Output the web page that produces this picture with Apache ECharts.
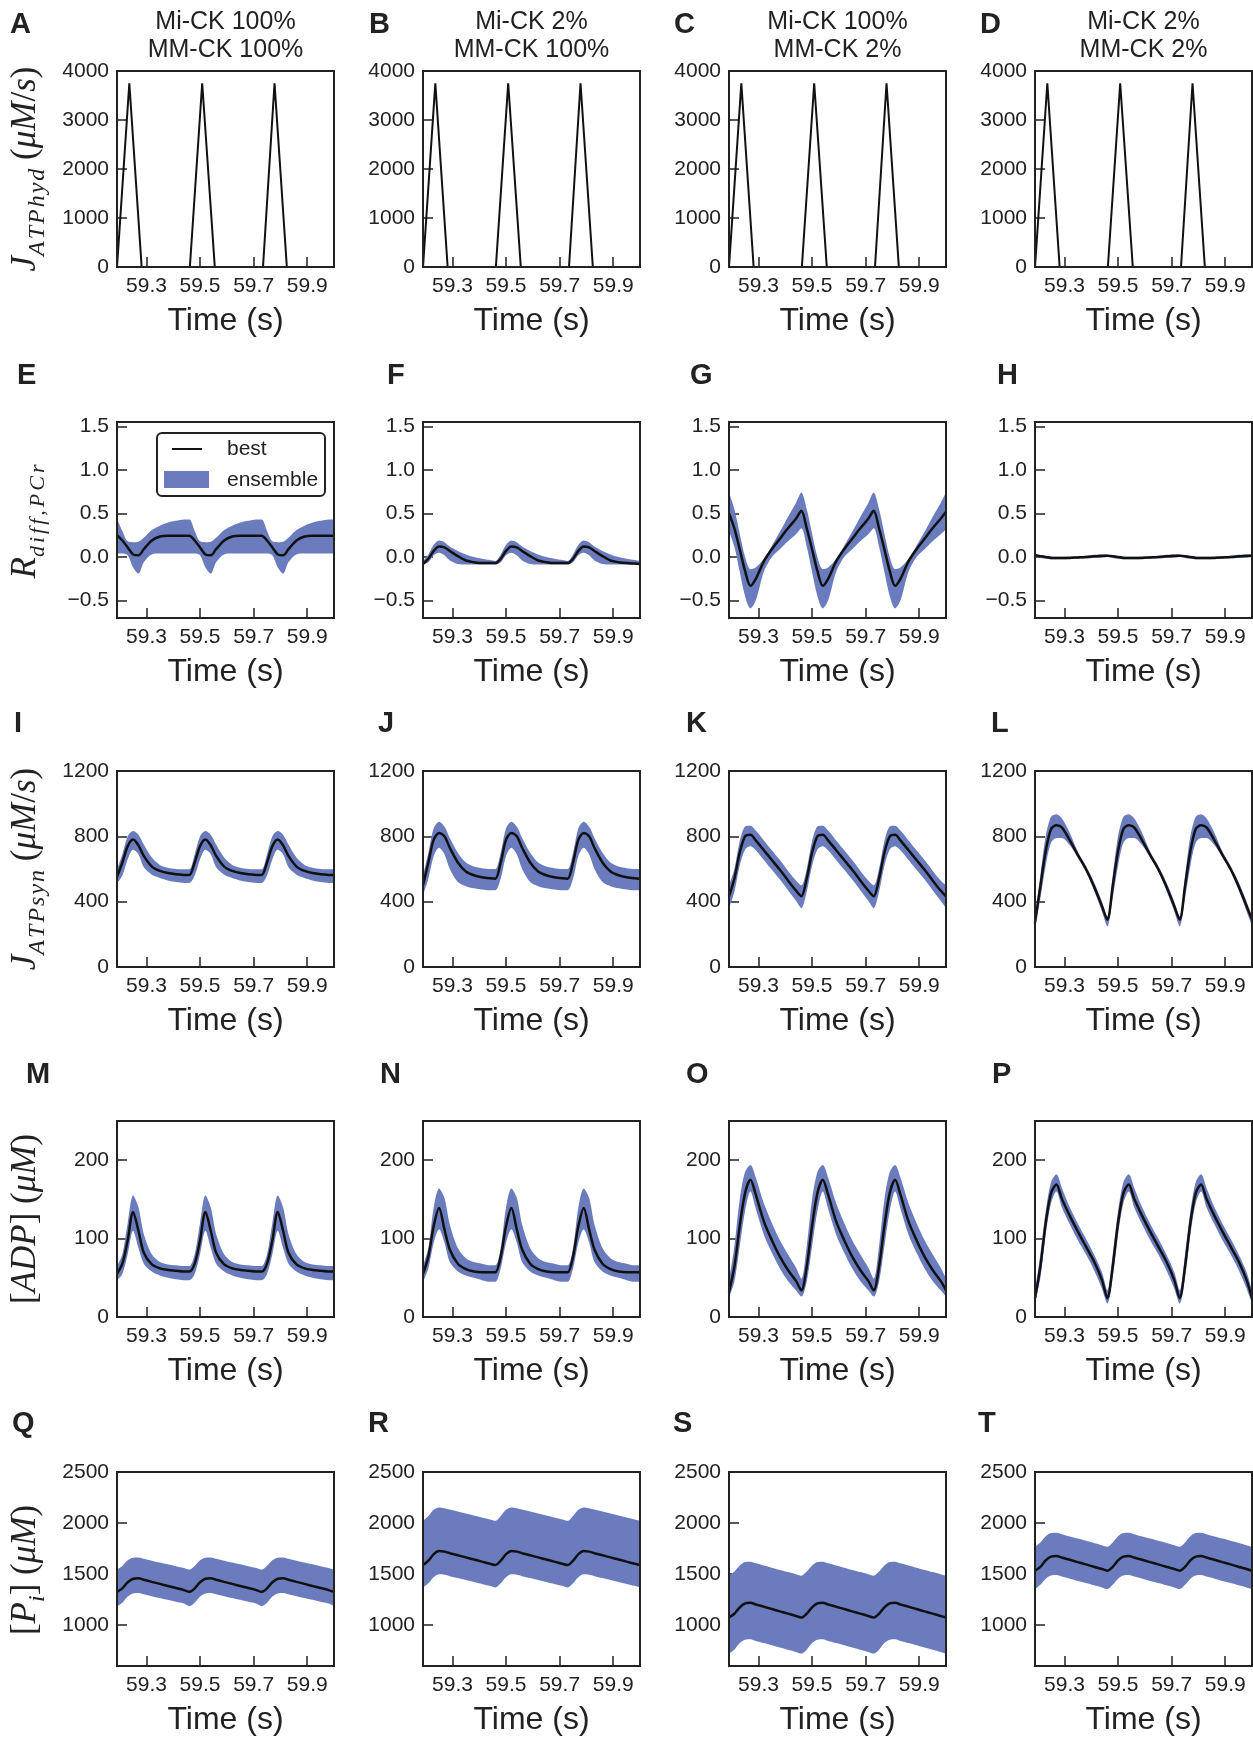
<!DOCTYPE html>
<html><head><meta charset="utf-8">
<script src="https://cdn.jsdelivr.net/npm/echarts@6/dist/echarts.min.js"></script>
<style>html,body{margin:0;padding:0;background:#fff}#c{width:1253px;height:1737px}</style>
</head><body><div id="c"></div>
<script>
// ---------- text ----------
const COL_TITLES = [['Mi-CK 100%','MM-CK 100%'],['Mi-CK 2%','MM-CK 100%'],['Mi-CK 100%','MM-CK 2%'],['Mi-CK 2%','MM-CK 2%']];
const PANEL_LETTERS = [['A','B','C','D'],['E','F','G','H'],['I','J','K','L'],['M','N','O','P'],['Q','R','S','T']];
const X_NAME = 'Time (s)';
const X_TICKS = [59.3, 59.5, 59.7, 59.9];
const Y_TICKS_HYD = [0, 1000, 2000, 3000, 4000];
const Y_TICKS_R = [-0.5, 0, 0.5, 1.0, 1.5];
const Y_TICKS_SYN = [0, 400, 800, 1200];
const Y_TICKS_ADP = [0, 100, 200];
const Y_TICKS_PI = [1000, 1500, 2000, 2500];
const LEGEND_NAMES = ['best', 'ensemble'];

// ---------- row 1 : J_ATPhyd ----------
const TIME_HYD = [59.19, 59.236, 59.282, 59.462, 59.508, 59.555, 59.735, 59.778, 59.824, 60.0];
const HYD_A = [0, 3750, 0, 0, 3750, 0, 0, 3750, 0, 0];
const HYD_B = [0, 3750, 0, 0, 3750, 0, 0, 3750, 0, 0];
const HYD_C = [0, 3750, 0, 0, 3750, 0, 0, 3750, 0, 0];
const HYD_D = [0, 3750, 0, 0, 3750, 0, 0, 3750, 0, 0];

// ---------- rows 2-5 time ----------
const TIME = [59.19,59.21,59.23,59.25,59.27,59.29,59.32,59.35,59.38,59.41,59.44,
              59.46,59.48,59.50,59.52,59.54,59.56,59.59,59.62,59.65,59.68,59.71,
              59.73,59.75,59.77,59.79,59.81,59.83,59.86,59.89,59.92,59.95,59.98,
              60.00];

// ---------- row 2 : R_diff,PCr ----------
const E_BEST  = [0.25,0.19,0.11,0.03,0.02,0.09,0.19,0.235,0.245,0.245,0.245, 0.245,0.19,0.11,0.03,0.02,0.09,0.19,0.235,0.245,0.245,0.245, 0.245,0.19,0.11,0.03,0.02,0.09,0.19,0.235,0.245,0.245,0.245, 0.245];
const E_UPPER = [0.44,0.30,0.18,0.17,0.175,0.22,0.31,0.36,0.395,0.415,0.43, 0.43,0.30,0.18,0.17,0.175,0.22,0.31,0.36,0.395,0.415,0.43, 0.43,0.30,0.18,0.17,0.175,0.22,0.31,0.36,0.395,0.415,0.43, 0.43];
const E_LOWER = [0.04,0.04,0.02,-0.12,-0.19,-0.06,0.03,0.04,0.04,0.04,0.04, 0.04,0.04,0.02,-0.12,-0.19,-0.06,0.03,0.04,0.04,0.04,0.04, 0.04,0.04,0.02,-0.12,-0.19,-0.06,0.03,0.04,0.04,0.04,0.04, 0.04];

const F_BEST  = [-0.08,-0.02,0.07,0.12,0.11,0.07,0.01,-0.04,-0.06,-0.07,-0.07, -0.07,-0.02,0.07,0.12,0.11,0.07,0.01,-0.04,-0.06,-0.07,-0.07, -0.07,-0.02,0.07,0.12,0.11,0.07,0.01,-0.04,-0.06,-0.07,-0.075, -0.08];
const F_UPPER = [-0.045,0.03,0.14,0.19,0.17,0.12,0.07,0.03,0.0,-0.02,-0.035, -0.045,0.03,0.14,0.19,0.17,0.12,0.07,0.03,0.0,-0.02,-0.035, -0.045,0.03,0.14,0.19,0.17,0.12,0.07,0.03,0.0,-0.02,-0.035, -0.045];
const F_LOWER = [-0.085,-0.06,0.02,0.05,0.02,-0.04,-0.08,-0.085,-0.085,-0.085,-0.085, -0.085,-0.06,0.02,0.05,0.02,-0.04,-0.08,-0.085,-0.085,-0.085,-0.085, -0.085,-0.06,0.02,0.05,0.02,-0.04,-0.08,-0.085,-0.085,-0.085,-0.085, -0.085];

const G_BEST  = [0.50,0.33,0.09,-0.16,-0.33,-0.25,-0.05,0.09,0.21,0.33,0.44, 0.53,0.33,0.09,-0.16,-0.33,-0.25,-0.05,0.09,0.21,0.33,0.44, 0.53,0.33,0.09,-0.16,-0.33,-0.25,-0.05,0.09,0.21,0.33,0.44, 0.52];
const G_UPPER = [0.74,0.55,0.27,0.0,-0.14,-0.12,-0.02,0.13,0.29,0.46,0.62, 0.74,0.55,0.27,0.0,-0.14,-0.12,-0.02,0.13,0.29,0.46,0.62, 0.74,0.55,0.27,0.0,-0.14,-0.12,-0.02,0.13,0.29,0.46,0.62, 0.74];
const G_LOWER = [0.30,0.12,-0.17,-0.45,-0.59,-0.50,-0.17,0.0,0.09,0.18,0.26, 0.33,0.12,-0.17,-0.45,-0.59,-0.50,-0.17,0.0,0.09,0.18,0.26, 0.33,0.12,-0.17,-0.45,-0.59,-0.50,-0.17,0.0,0.09,0.18,0.26, 0.32];

const H_BEST  = [0.02,0.01,0.0,-0.01,-0.012,-0.012,-0.01,-0.005,0.0,0.008,0.013, 0.015,0.01,0.0,-0.01,-0.012,-0.012,-0.01,-0.005,0.0,0.008,0.013, 0.015,0.01,0.0,-0.01,-0.012,-0.012,-0.01,-0.005,0.0,0.008,0.013, 0.015];
const H_UPPER = [0.035,0.02,0.01,0.005,0.002,0.002,0.005,0.01,0.015,0.025,0.032, 0.03,0.02,0.01,0.005,0.002,0.002,0.005,0.01,0.015,0.025,0.032, 0.03,0.02,0.01,0.005,0.002,0.002,0.005,0.01,0.015,0.025,0.032, 0.03];
const H_LOWER = [0.0,-0.01,-0.02,-0.025,-0.025,-0.025,-0.022,-0.02,-0.015,-0.01,-0.005, 0.0,-0.01,-0.02,-0.025,-0.025,-0.025,-0.022,-0.02,-0.015,-0.01,-0.005, 0.0,-0.01,-0.02,-0.025,-0.025,-0.025,-0.022,-0.02,-0.015,-0.01,-0.005, 0.0];

// ---------- row 3 : J_ATPsyn ----------
const I_BEST  = [552,640,740,781,745,680,615,588,575,568,564, 563,640,740,781,745,680,615,588,575,568,564, 563,640,740,781,745,680,615,588,575,568,564, 563];
const I_UPPER = [598,690,800,832,810,750,670,625,608,600,598, 598,690,800,832,810,750,670,625,608,600,598, 598,690,800,832,810,750,670,625,608,600,598, 598];
const I_LOWER = [512,560,660,718,690,610,565,545,530,520,515, 515,560,660,718,690,610,565,545,530,520,515, 515,560,660,718,690,610,565,545,530,520,515, 515];

const J_BEST  = [500,640,780,820,800,730,640,585,562,550,543, 540,640,780,820,800,730,640,585,562,550,543, 540,640,780,820,800,730,640,585,562,550,543, 540];
const J_UPPER = [560,700,850,890,860,790,700,640,615,605,600, 600,700,850,890,860,790,700,640,615,605,600, 600,700,850,890,860,790,700,640,615,605,600, 600];
const J_LOWER = [440,540,680,730,690,600,520,495,482,475,470, 470,540,680,730,690,600,520,495,482,475,470, 470,540,680,730,690,600,520,495,482,475,470, 470];

const K_BEST  = [433,540,700,800,810,775,715,655,595,530,468, 433,540,700,800,810,775,715,655,595,530,468, 433,540,700,800,810,775,715,655,595,530,468, 433];
const K_UPPER = [500,600,770,860,865,835,775,715,655,590,530, 500,600,770,860,865,835,775,715,655,590,530, 500,600,770,860,865,835,775,715,655,590,530, 500];
const K_LOWER = [360,460,620,720,740,715,655,595,535,470,405, 360,460,620,720,740,715,655,595,535,470,405, 360,460,620,720,740,715,655,595,535,470,405, 360];

const L_BEST  = [270,495,710,845,868,855,775,685,600,495,372, 290,495,710,845,868,855,775,685,600,495,372, 290,495,710,845,868,855,775,685,600,495,372, 290];
const L_UPPER = [300,560,800,920,935,910,820,705,620,520,400, 310,560,800,920,935,910,820,705,620,520,400, 310,560,800,920,935,910,820,705,620,520,400, 310];
const L_LOWER = [245,420,620,760,790,790,745,670,585,470,340, 250,420,620,760,790,790,745,670,585,470,340, 250,420,620,760,790,790,745,670,585,470,340, 250];

// ---------- row 4 : [ADP] ----------
const M_BEST  = [55,68,98,134,110,82,67,62,60,59,58, 58,68,98,134,110,82,67,62,60,59,58, 58,68,98,134,110,82,67,62,60,59,58, 58];
const M_UPPER = [65,80,120,155,140,106,80,70,67,66,65, 65,80,120,155,140,106,80,70,67,66,65, 65,80,120,155,140,106,80,70,67,66,65, 65];
const M_LOWER = [47,55,80,110,88,68,58,53,50,48,47, 47,55,80,110,88,68,58,53,50,48,47, 47,55,80,110,88,68,58,53,50,48,47, 47];

const N_BEST  = [55,77,116,139,112,86,68,61,58,57,57, 57,77,116,139,112,86,68,61,58,57,57, 57,77,116,139,112,86,68,61,58,57,57, 57];
const N_UPPER = [66,88,140,164,152,118,88,75,70,68,66, 66,88,140,164,152,118,88,75,70,68,66, 66,88,140,164,152,118,88,75,70,68,66, 66];
const N_LOWER = [45,62,95,112,95,70,58,53,50,47,45, 45,62,95,112,95,70,58,53,50,47,45, 45,62,95,112,95,70,58,53,50,47,45, 45];

const O_BEST  = [32,64,116,158,175,156,122,98,77,60,46, 34,64,116,158,175,156,122,98,77,60,46, 34,64,116,158,175,156,122,98,77,60,46, 34];
const O_UPPER = [47,90,150,185,194,178,145,120,98,80,63, 49,90,150,185,194,178,145,120,98,80,63, 49,90,150,185,194,178,145,120,98,80,63, 49];
const O_LOWER = [25,45,90,135,160,138,105,82,62,46,34, 26,45,90,135,160,138,105,82,62,46,34, 26,45,90,135,160,138,105,82,62,46,34, 26];

const P_BEST  = [24,64,120,158,169,151,129,109,90,71,47, 24,64,120,158,169,151,129,109,90,71,47, 24,64,120,158,169,151,129,109,90,71,47, 24];
const P_UPPER = [34,80,135,172,182,165,140,119,100,80,57, 34,80,135,172,182,165,140,119,100,80,57, 34,80,135,172,182,165,140,119,100,80,57, 34];
const P_LOWER = [17,50,105,145,160,140,118,98,80,60,36, 17,50,105,145,160,140,118,98,80,60,36, 17,50,105,145,160,140,118,98,80,60,36, 17];

// ---------- row 5 : [Pi] ----------
const Q_BEST  = [1326,1360,1420,1455,1460,1445,1424,1404,1384,1364,1343, 1326,1360,1420,1455,1460,1445,1424,1404,1384,1364,1343, 1326,1360,1420,1455,1460,1445,1424,1404,1384,1364,1343, 1326];
const Q_UPPER = [1544,1580,1635,1660,1662,1650,1632,1614,1596,1578,1560, 1544,1580,1635,1660,1662,1650,1632,1614,1596,1578,1560, 1544,1580,1635,1660,1662,1650,1632,1614,1596,1578,1560, 1544];
const Q_LOWER = [1186,1220,1280,1310,1314,1302,1284,1266,1248,1230,1212, 1186,1220,1280,1310,1314,1302,1284,1266,1248,1230,1212, 1186,1220,1280,1310,1314,1302,1284,1266,1248,1230,1212, 1186];

const R_BEST  = [1588,1631,1696,1727,1720,1705,1684,1664,1643,1622,1602, 1588,1631,1696,1727,1720,1705,1684,1664,1643,1622,1602, 1588,1631,1696,1727,1720,1705,1684,1664,1643,1622,1602, 1588];
const R_UPPER = [2023,2070,2130,2152,2146,2132,2113,2093,2074,2055,2036, 2023,2070,2130,2152,2146,2132,2113,2093,2074,2055,2036, 2023,2070,2130,2152,2146,2132,2113,2093,2074,2055,2036, 2023];
const R_LOWER = [1369,1410,1470,1498,1493,1480,1461,1442,1423,1404,1385, 1369,1410,1470,1498,1493,1480,1461,1442,1423,1404,1385, 1369,1410,1470,1498,1493,1480,1461,1442,1423,1404,1385, 1369];

const S_BEST  = [1075,1112,1175,1213,1220,1203,1181,1158,1135,1113,1090, 1075,1112,1175,1213,1220,1203,1181,1158,1135,1113,1090, 1075,1112,1175,1213,1220,1203,1181,1158,1135,1113,1090, 1075];
const S_UPPER = [1484,1525,1585,1618,1622,1606,1585,1563,1541,1520,1499, 1484,1525,1585,1618,1622,1606,1585,1563,1541,1520,1499, 1484,1525,1585,1618,1622,1606,1585,1563,1541,1520,1499, 1484];
const S_LOWER = [722,760,825,858,862,846,825,803,781,760,738, 722,760,825,858,862,846,825,803,781,760,738, 722,760,825,858,862,846,825,803,781,760,738, 722];

const T_BEST  = [1533,1570,1635,1672,1678,1662,1640,1617,1595,1572,1550, 1533,1570,1635,1672,1678,1662,1640,1617,1595,1572,1550, 1533,1570,1635,1672,1678,1662,1640,1617,1595,1572,1550, 1533];
const T_UPPER = [1768,1810,1870,1902,1906,1891,1869,1848,1826,1805,1783, 1768,1810,1870,1902,1906,1891,1869,1848,1826,1805,1783, 1768,1810,1870,1902,1906,1891,1869,1848,1826,1805,1783, 1768];
const T_LOWER = [1353,1395,1455,1487,1491,1476,1455,1433,1412,1390,1369, 1353,1395,1455,1487,1491,1476,1455,1433,1412,1390,1369, 1353,1395,1455,1487,1491,1476,1455,1433,1412,1390,1369, 1353];

// ---------- layout & style ----------
const GRID_LEFT = [117, 423, 729, 1035];
const GRID_TOP = [71, 422, 771, 1121, 1472];
const GRID_W = 217, GRID_H = 196;
const INK = '#222';
const BAND = '#6a7cbe';
const SANS = "'Liberation Sans', Arial, Helvetica, sans-serif";
const SERIF = "'Liberation Serif', 'DejaVu Serif', serif";

const ROWS = [
  {min: 0, max: 4000, ticks: Y_TICKS_HYD, fmt: v => String(v)},
  {min: -0.7, max: 1.55, ticks: Y_TICKS_R, fmt: v => (v < 0 ? '\u2212' : '') + Math.abs(v).toFixed(1)},
  {min: 0, max: 1200, ticks: Y_TICKS_SYN, fmt: v => String(v)},
  {min: 0, max: 250, ticks: Y_TICKS_ADP, fmt: v => String(v)},
  {min: 600, max: 2500, ticks: Y_TICKS_PI, fmt: v => String(v)}
];
const HYD = [HYD_A, HYD_B, HYD_C, HYD_D];
const BANDS = [
  [[E_LOWER,E_UPPER,E_BEST],[F_LOWER,F_UPPER,F_BEST],[G_LOWER,G_UPPER,G_BEST],[H_LOWER,H_UPPER,H_BEST]],
  [[I_LOWER,I_UPPER,I_BEST],[J_LOWER,J_UPPER,J_BEST],[K_LOWER,K_UPPER,K_BEST],[L_LOWER,L_UPPER,L_BEST]],
  [[M_LOWER,M_UPPER,M_BEST],[N_LOWER,N_UPPER,N_BEST],[O_LOWER,O_UPPER,O_BEST],[P_LOWER,P_UPPER,P_BEST]],
  [[Q_LOWER,Q_UPPER,Q_BEST],[R_LOWER,R_UPPER,R_BEST],[S_LOWER,S_UPPER,S_BEST],[T_LOWER,T_UPPER,T_BEST]]
];

const grids = [], xAxes = [], yAxes = [], series = [];
for (let r = 0; r < 5; r++) {
  for (let c = 0; c < 4; c++) {
    const g = r * 4 + c;
    grids.push({left: GRID_LEFT[c], top: GRID_TOP[r], width: GRID_W, height: GRID_H,
      show: true, borderColor: INK, borderWidth: 2, backgroundColor: 'transparent', z: 5});
    xAxes.push({type: 'value', gridIndex: g, min: 59.19, max: 60.0,
      axisLine: {show: false, onZero: false}, splitLine: {show: false},
      axisTick: {show: true, inside: true, length: 10, customValues: X_TICKS, lineStyle: {color: INK, width: 1.5}},
      axisLabel: {customValues: X_TICKS, formatter: v => v.toFixed(1), margin: 9, fontSize: 21, color: INK, fontFamily: SANS},
      name: X_NAME, nameLocation: 'middle', nameGap: 38,
      nameTextStyle: {fontSize: 32, color: INK, fontFamily: SANS}});
    const R = ROWS[r];
    yAxes.push({type: 'value', gridIndex: g, min: R.min, max: R.max,
      axisLine: {show: false, onZero: false}, splitLine: {show: false},
      axisTick: {show: true, inside: true, length: 10, customValues: R.ticks, lineStyle: {color: INK, width: 1.5}},
      axisLabel: {customValues: R.ticks, formatter: R.fmt, margin: 8, fontSize: 21, color: INK, fontFamily: SANS}});
    if (r === 0) {
      series.push({type: 'line', xAxisIndex: g, yAxisIndex: g, symbol: 'none', silent: true,
        data: TIME_HYD.map((t, i) => [t, HYD[c][i]]),
        lineStyle: {color: '#111', width: 2}});
    } else {
      const [lo, up, best] = BANDS[r - 1][c];
      const common = {type: 'line', xAxisIndex: g, yAxisIndex: g, symbol: 'none', silent: true, smooth: 0.3};
      series.push(Object.assign({}, common, {
        name: 'lower' + g, stack: 'band' + g, stackStrategy: 'all', dimensions: ['v', 't'], encode: {x: 't', y: 'v'},
        data: TIME.map((t, i) => [lo[i], t]),
        lineStyle: {width: 0, opacity: 0}}));
      series.push(Object.assign({}, common, {
        name: LEGEND_NAMES[1], stack: 'band' + g, stackStrategy: 'all', dimensions: ['v', 't'], encode: {x: 't', y: 'v'},
        data: TIME.map((t, i) => [up[i] - lo[i], t]),
        lineStyle: {width: 0, opacity: 0}, areaStyle: {color: BAND, opacity: 1}}));
      series.push(Object.assign({}, common, {
        name: LEGEND_NAMES[0], data: TIME.map((t, i) => [t, best[i]]),
        lineStyle: {color: '#111', width: 2.5}}));
    }
  }
}

// ---------- graphic texts ----------
const graphics = [];
function txt(x, y, text, font, align, extra) {
  return Object.assign({type: 'text', x: x, y: y, silent: true, z: 10,
    style: {text: text, font: font, fill: INK, align: align || 'center', verticalAlign: 'middle',
            textAlign: align || 'center', textVerticalAlign: 'middle'}}, extra || {});
}
for (let c = 0; c < 4; c++) {
  const cx = GRID_LEFT[c] + GRID_W / 2;
  graphics.push(txt(cx, 22, COL_TITLES[c][0], '25px ' + SANS));
  graphics.push(txt(cx, 50, COL_TITLES[c][1], '25px ' + SANS));
}
const LETTER_Y = [25, 376, 724, 1075, 1424];
const LETTER_X = [[10, 369, 674, 980], [17, 387, 690, 997], [14, 378, 686, 991], [26, 380, 686, 992], [12, 368, 673, 978]];
for (let r = 0; r < 5; r++) for (let c = 0; c < 4; c++) {
  graphics.push(txt(LETTER_X[r][c], LETTER_Y[r], PANEL_LETTERS[r][c], 'bold 29px ' + SANS, 'left'));
}
const RICH = {
  it: {fontFamily: SERIF, fontStyle: 'italic', fontSize: 35, lineHeight: 47, verticalAlign: 'middle', fill: INK},
  rm: {fontFamily: SERIF, fontSize: 35, lineHeight: 47, verticalAlign: 'middle', fill: INK},
  sub: {fontFamily: SERIF, fontStyle: 'italic', fontSize: 24, lineHeight: 24, verticalAlign: 'bottom', fill: INK},
  sj: {fontFamily: SERIF, fontStyle: 'italic', fontSize: 24, lineHeight: 24, verticalAlign: 'bottom', fill: INK, padding: [0, 2, 0, 0]},
  sp: {fontFamily: SERIF, fontStyle: 'italic', fontSize: 22, lineHeight: 22, verticalAlign: 'bottom', fill: INK, padding: [0, 3, 0, 0]}
};
const Y_NAMES = [
  '{it|J}{sj|A}{sj|T}{sj|P}{sj|h}{sj|y}{sub|d}{rm| (}{it|\u03bcM}{rm|/}{it|s}{rm|)}',
  '{it|R}{sp|d}{sp|i}{sp|f}{sp|f}{sp|,}{sp|P}{sp|C}{sp|r}',
  '{it|J}{sj|A}{sj|T}{sj|P}{sj|s}{sj|y}{sub|n}{rm| (}{it|\u03bcM}{rm|/}{it|s}{rm|)}',
  '{rm|[}{it|ADP}{rm|] (}{it|\u03bcM}{rm|)}',
  '{rm|[}{it|P}{sub|i}{rm|] (}{it|\u03bcM}{rm|)}'
];
for (let r = 0; r < 5; r++) {
  graphics.push({type: 'text', x: 26, y: GRID_TOP[r] + GRID_H / 2, rotation: Math.PI / 2, silent: true, z: 10,
    style: {text: Y_NAMES[r], rich: RICH, align: 'center', verticalAlign: 'middle',
            textAlign: 'center', textVerticalAlign: 'middle', fill: INK}});
}
// legend in panel E
graphics.push({type: 'rect', shape: {x: 157, y: 433, width: 168, height: 63, r: 5}, z: 10, silent: true,
  style: {fill: '#fff', stroke: INK, lineWidth: 2}});
graphics.push({type: 'line', shape: {x1: 172, y1: 449, x2: 202, y2: 449}, z: 11, silent: true,
  style: {stroke: '#111', lineWidth: 2}});
graphics.push({type: 'rect', shape: {x: 164, y: 471, width: 45, height: 17}, z: 11, silent: true,
  style: {fill: BAND}});
graphics.push(txt(227, 449, LEGEND_NAMES[0], '21px ' + SANS, 'left', {z: 11}));
graphics.push(txt(227, 480, LEGEND_NAMES[1], '21px ' + SANS, 'left', {z: 11}));

const chart = echarts.init(document.getElementById('c'), null, {renderer: 'canvas'});
chart.setOption({
  animation: false,
  backgroundColor: '#fff',
  grid: grids, xAxis: xAxes, yAxis: yAxes, series: series,
  graphic: {elements: graphics}
});
</script></body></html>
